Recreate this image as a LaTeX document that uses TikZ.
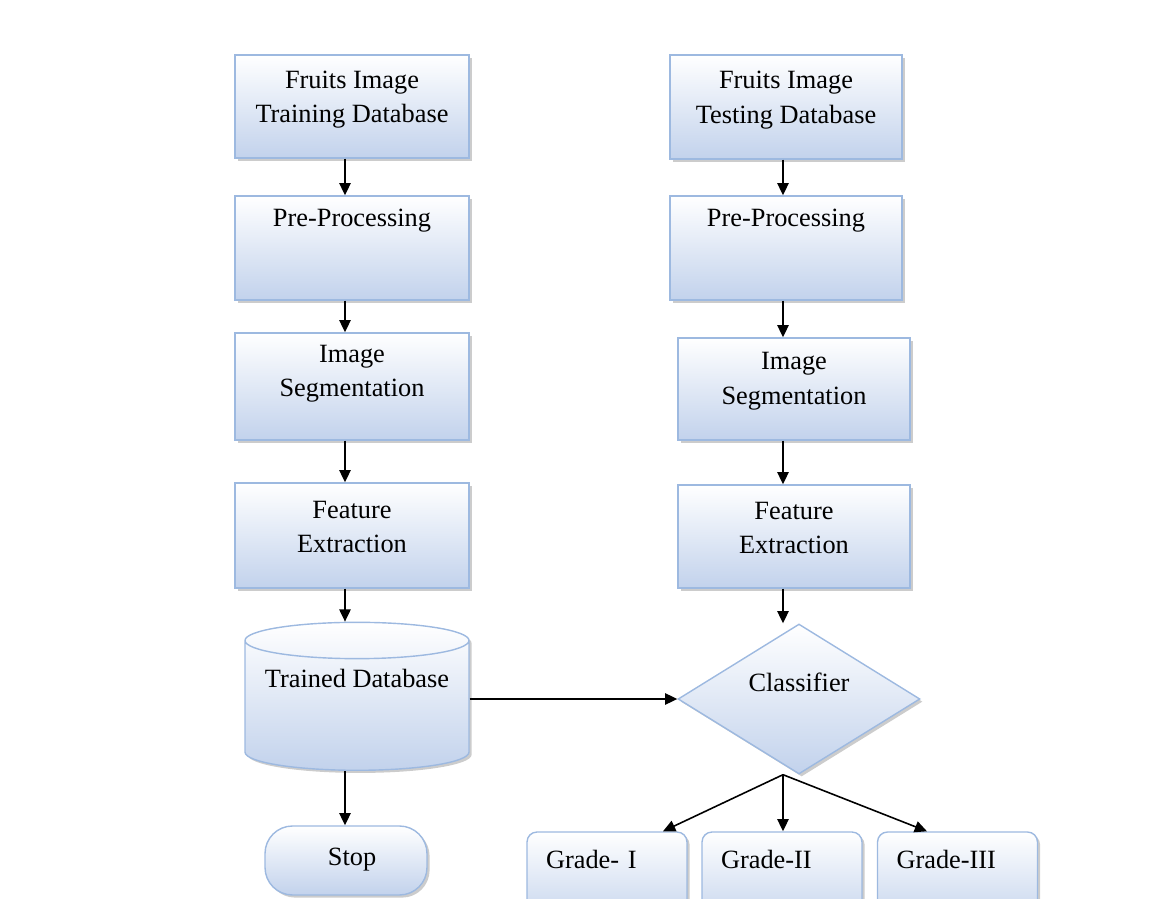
\documentclass[tikz,border=0pt]{standalone}
\usepackage{fontspec}
\setmainfont{Liberation Serif}
\usetikzlibrary{arrows.meta,
	shapes.geometric,
	shadows}
\definecolor{boxline}{HTML}{9DB9E0}
\definecolor{boxfill}{HTML}{C2D2EC}

\begin{document}
\begin{tikzpicture}[x=0.02cm,y=-0.02cm]
    \tikzstyle{block}=[draw=boxline,line width=0.8pt,top color=white,bottom color=boxfill,
      drop shadow={shadow xshift=1.5pt,shadow yshift=-1.5pt,opacity=0.4},
      inner sep=2pt,align=center,font=\fontsize{15}{19.5}\selectfont]
    \tikzstyle{proc}=[block,rectangle,minimum width=4.68cm]
    \tikzstyle{grade}=[block,rectangle,rounded corners=0.2cm,minimum width=3.2cm,minimum height=1.9cm,
      text width=2.44cm,inner xsep=0.38cm,align=left,text depth=23pt]
    \tikzstyle{flow}=[line width=0.9pt,-{Triangle[length=7pt,width=6.5pt]}]
    \useasboundingbox (0,0) rectangle (1171,899);
    \clip (0,0) rectangle (1171,899);
    \coordinate (lcol) at (345,0);
    \coordinate (rcol) at (783,0);
    % training side
    \node[proc,minimum height=2.06cm,text depth=11pt] (t_1) at (352,106.5) {Fruits Image\\Training Database};
    \node[proc,minimum height=2.08cm,text depth=34pt] (t_2) at (352,248) {Pre-Processing};
    \node[proc,minimum height=2.14cm,text depth=18pt] (t_3) at (352,386.5) {Image\\Segmentation};
    \node[proc,minimum height=2.1cm,text depth=10pt] (t_4) at (352,535.5) {Feature\\Extraction};
    \node[block,cylinder,shape border rotate=90,aspect=0.19,minimum width=4.48cm,minimum height=2.96cm,
      text depth=34pt] (db) at (357,708) {Trained Database};
    \node[block,rectangle,rounded corners=0.55cm,minimum width=3.24cm,minimum height=1.38cm,
      text depth=4pt,text width=3cm] (stop) at (346,860.5) {\hspace*{7pt}Stop};
    % testing side
    \node[proc,minimum width=4.64cm,minimum height=2.08cm,text depth=11pt] (s_1) at (786,107) {Fruits Image\\Testing Database};
    \node[proc,minimum width=4.64cm,minimum height=2.08cm,text depth=34pt] (s_2) at (786,248) {Pre-Processing};
    \node[proc,minimum width=4.64cm,minimum height=2.04cm,text depth=12pt] (s_3) at (794,389) {Image\\Segmentation};
    \node[proc,minimum width=4.64cm,minimum height=2.06cm,text depth=10pt] (s_4) at (794,536.5) {Feature\\Extraction};
    \node[block,diamond,aspect=1.6,inner sep=0pt,minimum width=4.84cm,minimum height=3cm,
      text depth=19.6pt] (cls) at (799,699) {Classifier};
    \node[grade] (g_1) at (607,879.5) {Grade- I};
    \node[grade] (g_2) at (782,879.5) {Grade-II};
    \node[grade] (g_3) at (957.5,879.5) {Grade-III};
    \coordinate (split) at (cls.south -| rcol);
    % arrows
    \draw[flow] (t_1.south -| lcol) -- (t_2.north -| lcol);
    \draw[flow] (t_2.south -| lcol) -- (t_3.north -| lcol);
    \draw[flow] (t_3.south -| lcol) -- (t_4.north -| lcol);
    \draw[flow] (t_4.south -| lcol) -- (db.north -| lcol);
    \draw[flow] (db.south -| lcol) -- (stop.north -| lcol);
    \draw[flow] (s_1.south -| rcol) -- (s_2.north -| rcol);
    \draw[flow] (s_2.south -| rcol) -- (s_3.north -| rcol);
    \draw[flow] (s_3.south -| rcol) -- (s_4.north -| rcol);
    \draw[flow] (s_4.south -| rcol) -- (cls.north -| rcol);
    \draw[flow] (db.east |- cls.west) -- (cls.west);
    \draw[flow] (split) -- ([xshift=1.12cm]g_1.north);
    \draw[flow] (split) -- (g_2.north -| rcol);
    \draw[flow] (split) -- ([xshift=-0.61cm]g_3.north);
  \end{tikzpicture}
\end{document}
